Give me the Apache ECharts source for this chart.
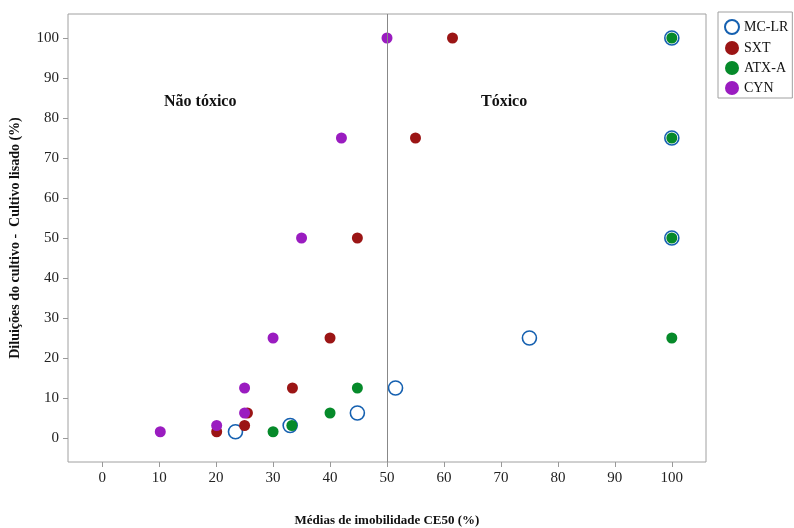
<!DOCTYPE html>
<html>
<head>
<meta charset="utf-8">
<script src="https://cdn.jsdelivr.net/npm/echarts@6/dist/echarts.min.js"></script>
<style>
  html, body { margin: 0; padding: 0; background: #fff; }
  #main { width: 794px; height: 528px; }
</style>
</head>
<body>
<div id="main"></div>
<script>
// diluições (eixo y) e médias CE50 (eixo x) por toxina
var diluicoes = [100, 75, 50, 25, 12.5, 6.25, 3.125, 1.5625];
var mcLR = [100, 100, 100, 75, 51.5, 44.8, 33, 23.4];
var sxt = [61.5, 55, 44.8, 40, 33.4, 25.5, 25, 20.1];
var atxA = [100, 100, 100, 100, 44.8, 40, 33.3, 30];
var cyn = [50, 42, 35, 30, 25, 25, 20.1, 10.2];
var ticks = [0, 10, 20, 30, 40, 50, 60, 70, 80, 90, 100];

var serif = '"Liberation Serif", "DejaVu Serif", serif';

function pares(xs) {
    return xs.map(function (x, i) { return [x, diluicoes[i]]; });
}

var myChart = echarts.init(document.getElementById('main'));

var eixo = {
    type: 'value',
    min: -6,
    max: 106,
    splitLine: { show: false },
    axisLine: { show: false, onZero: false },
    axisTick: { show: true, length: 5, customValues: ticks, lineStyle: { color: '#999' } },
    axisLabel: { customValues: ticks, color: '#222', fontFamily: serif, fontSize: 15, margin: 9 },
    nameLocation: 'middle',
    nameTextStyle: { fontFamily: serif, fontWeight: 'bold', fontSize: 13, color: '#111' }
};

var option = {
    animation: false,
    grid: {
        left: 68, right: 88, top: 14, bottom: 66,
        outerBoundsMode: 'none', containLabel: false,
        show: true, borderColor: '#a0a0a0', borderWidth: 1
    },
    xAxis: Object.assign({}, eixo, { name: 'Médias de imobilidade CE50 (%)', nameGap: 52 }),
    yAxis: Object.assign({}, eixo, {
        name: 'Diluições do cultivo -  Cultivo lisado (%)', nameGap: 46,
        nameTextStyle: { fontFamily: serif, fontWeight: 'bold', fontSize: 14, color: '#111' }
    }),
    legend: {
        orient: 'vertical',
        left: 718,
        top: 12,
        itemWidth: 14,
        itemHeight: 14,
        itemGap: 6,
        padding: [7, 4, 3, 6],
        borderColor: '#a0a0a0',
        borderWidth: 1,
        textStyle: { fontFamily: serif, fontSize: 14, color: '#111' },
        data: ['MC-LR', 'SXT', 'ATX-A', 'CYN']
    },
    graphic: [
        { type: 'text', left: 164, top: 94, style: { text: 'Não tóxico', font: 'bold 16px ' + serif, fill: '#111' } },
        { type: 'text', left: 481, top: 94, style: { text: 'Tóxico', font: 'bold 16px ' + serif, fill: '#111' } }
    ],
    series: [
        {
            name: 'MC-LR', type: 'scatter', symbol: 'circle', symbolSize: 14,
            itemStyle: { color: 'rgba(255,255,255,0)', borderColor: '#1560b0', borderWidth: 1.6, opacity: 1 },
            data: pares(mcLR),
            markLine: {
                silent: true, symbol: 'none', label: { show: false },
                lineStyle: { color: '#888', width: 1, type: 'solid' },
                data: [{ xAxis: 50 }]
            }
        },
        { name: 'SXT', type: 'scatter', symbolSize: 11, itemStyle: { color: '#9b1515', opacity: 1 }, data: pares(sxt) },
        { name: 'ATX-A', type: 'scatter', symbolSize: 11, itemStyle: { color: '#068a2a', opacity: 1 }, data: pares(atxA) },
        { name: 'CYN', type: 'scatter', symbolSize: 11, itemStyle: { color: '#9a1cc0', opacity: 1 }, data: pares(cyn) }
    ]
};

myChart.setOption(option);
</script>
</body>
</html>
